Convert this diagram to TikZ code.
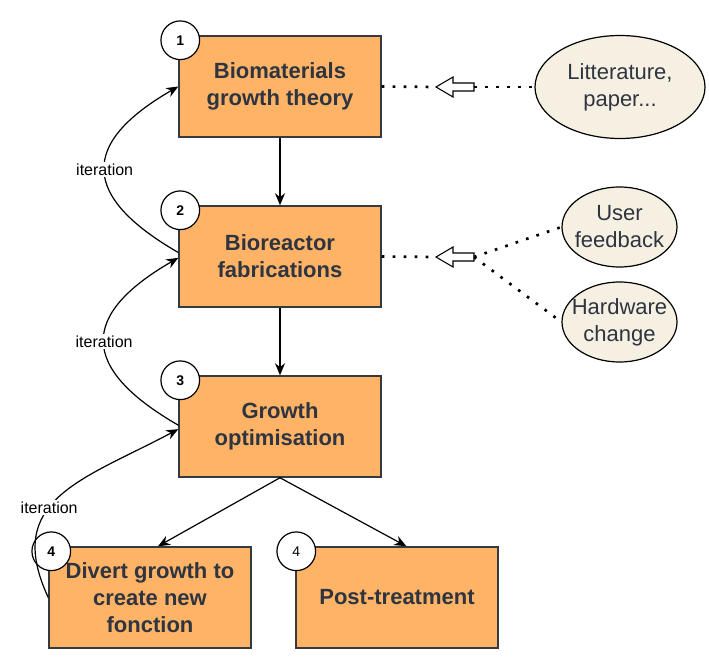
\documentclass[tikz,border=0pt]{standalone}
\usepackage{fontspec}
\setmainfont{Liberation Sans}
\usetikzlibrary{arrows.meta, shapes.geometric}

\definecolor{boxfill}{HTML}{FFB366}
\definecolor{boxline}{HTML}{36393D}
\definecolor{boxtext}{HTML}{2E3440}
\definecolor{notefill}{HTML}{F5F0E1}

\begin{document}
\begin{tikzpicture}[x=0.75pt, y=0.75pt,
	stepbox/.style={draw=boxline, fill=boxfill, line width=1.1pt, minimum width=151.5pt, minimum height=75.75pt, align=center, text=boxtext, font=\fontsize{16.5}{20.3}\selectfont\bfseries},
	num/.style={circle, draw=black, fill=white, line width=0.9pt, minimum size=29pt, inner sep=0pt, font=\fontsize{10.5}{12}\selectfont\bfseries},
	note/.style={ellipse, draw=black, fill=notefill, line width=0.9pt, inner xsep=-8pt, inner ysep=0pt, align=center, text=boxtext, font=\fontsize{16.5}{20.3}\selectfont},
	flow/.style={line width=0.9pt, -{Stealth[length=9pt,width=7.5pt]}},
	dots/.style={line width=2pt, dash pattern=on 2pt off 6.25pt},
	iter/.style={fill=white, inner sep=1pt, font=\fontsize{12}{14}\selectfont}
]
	% Frame
	\useasboundingbox (0,0) rectangle (709,669);

	% Steps
	\node[stepbox] (theory) at (280,582.5) {Biomaterials\\growth theory};
	\node[stepbox] (fabric) at (280,412.5) {Bioreactor\\fabrications};
	\node[stepbox] (optim) at (280,242.5) {Growth\\optimisation};
	\node[stepbox] (divert) at (150,71.5) {Divert growth to\\create new\\fonction};
	\node[stepbox] (post) at (397,71.5) {Post-treatment};

	% Numbers
	\node[num] (n1) at ([shift={(2,-5)}]theory.north west) {1};
	\node[num] (n2) at ([shift={(2,-5)}]fabric.north west) {2};
	\node[num] (n3) at ([shift={(2,-5)}]optim.north west) {3};
	\node[num] (n4) at ([shift={(3,-5)}]divert.north west) {4};
	\node[num, font=\fontsize{10.5}{12}\selectfont] (n5) at ([shift={(1,-5)}]post.north west) {4};

	% Inputs
	\node[note, minimum width=127.5pt, minimum height=77.25pt] (paper) at (620,582) {Litterature,\\paper...};
	\node[note, minimum width=86.25pt, minimum height=60pt] (user) at (619.5,442) {User\\feedback};
	\node[note, minimum width=86.25pt, minimum height=60pt] (hw) at (619.5,347) {Hardware\\change};

	% Hollow arrows
	\foreach \y/\n in {582/a, 412/b} {
		\draw[line width=0.8pt, fill=white] (436,\y) -- (453,\y+10) -- (453,\y+4) -- (474,\y+4) -- (474,\y-4) -- (453,\y-4) -- (453,\y-10) -- cycle;
		\coordinate (\n tip) at (436,\y);
		\coordinate (\n tail) at (474,\y);
	}
	\draw[dots] (theory.east) -- (atip);
	\draw[dots] (atail) -- (paper.west);
	\draw[dots] (fabric.east) -- (btip);
	\draw[dots] (btail) -- (user.west);
	\draw[dots] (btail) -- (hw.west);

	% Flow
	\draw[flow] (theory) -- (fabric);
	\draw[flow] (fabric) -- (optim);
	\draw[flow] (optim.south) -- ([xshift=6]divert.north);
	\draw[flow] (optim.south) -- ([xshift=7]post.north);

	% Iterations
	\draw[flow] ([yshift=3]fabric.west) to[out=150, in=210, looseness=1.75] node[iter] (it1) {iteration} (theory.west);
	\draw[flow] ([yshift=1]optim.west) to[out=150, in=210, looseness=1.75] node[iter] (it2) {iteration} ([yshift=-1]fabric.west);
	\draw[flow] (divert.west) to[out=115, in=208, looseness=1.3] node[iter, pos=0.42] (it3) {iteration} ([yshift=-2]optim.west);
\end{tikzpicture}
\end{document}
